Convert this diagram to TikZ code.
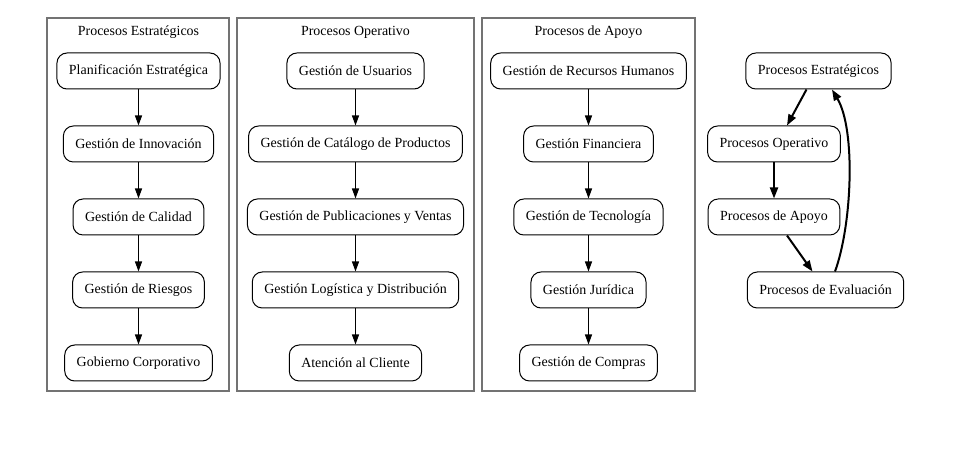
\documentclass[tikz,border=0pt]{standalone}
\usepackage{fontspec}
\setmainfont{Liberation Serif}
\usetikzlibrary{arrows.meta}
\begin{document}
\begin{tikzpicture}[x=1bp,y=-1bp,
  proc/.style={draw, line width=1bp, rounded corners=10bp, minimum height=36bp, inner xsep=12bp, font=\fontsize{14}{16}\selectfont},
  clusterbox/.style={draw=black!55, line width=1.6bp},
  ctitle/.style={font=\fontsize{14}{16}\selectfont, inner sep=0pt},
  flow/.style={-{Triangle[length=10bp,width=7bp]}, line width=1.1bp},
  thick flow/.style={-{Triangle[length=11bp,width=8bp]}, line width=2bp}]
\useasboundingbox (0,0) rectangle (962,475);
\fill[white] (0,0) rectangle (962,475);
% clusters
\draw[clusterbox] (47,18) rectangle (229,391);
\draw[clusterbox] (237,18) rectangle (474,391);
\draw[clusterbox] (482,18) rectangle (695,391);
\node[ctitle] (t1) at (138.5,32) {Procesos Estratégicos};
\node[ctitle] (t2) at (355.5,32) {Procesos Operativo};
\node[ctitle] (t3) at (588.5,32) {Procesos de Apoyo};
% cluster 1
\node[proc] (a1) at (138.5,71) {Planificación Estratégica};
\node[proc] (a2) at (138.5,144) {Gestión de Innovación};
\node[proc] (a3) at (138.5,217) {Gestión de Calidad};
\node[proc] (a4) at (138.5,290) {Gestión de Riesgos};
\node[proc] (a5) at (138.5,363) {Gobierno Corporativo};
% cluster 2
\node[proc] (b1) at (355.5,71) {Gestión de Usuarios};
\node[proc] (b2) at (355.5,144) {Gestión de Catálogo de Productos};
\node[proc] (b3) at (355.5,217) {Gestión de Publicaciones y Ventas};
\node[proc] (b4) at (355.5,290) {Gestión Logística y Distribución};
\node[proc] (b5) at (355.5,363) {Atención al Cliente};
% cluster 3
\node[proc] (c1) at (588.5,71) {Gestión de Recursos Humanos};
\node[proc] (c2) at (588.5,144) {Gestión Financiera};
\node[proc] (c3) at (588.5,217) {Gestión de Tecnología};
\node[proc] (c4) at (588.5,290) {Gestión Jurídica};
\node[proc] (c5) at (588.5,363) {Gestión de Compras};
\foreach \p in {a,b,c}{
  \draw[flow] (\p1) -- (\p2);
  \draw[flow] (\p2) -- (\p3);
  \draw[flow] (\p3) -- (\p4);
  \draw[flow] (\p4) -- (\p5);
}
% right graph
\node[proc] (est) at (818.5,71) {Procesos Estratégicos};
\node[proc] (ope) at (774,144) {Procesos Operativo};
\node[proc] (apo) at (774,217) {Procesos de Apoyo};
\node[proc] (eva) at (825.5,290) {Procesos de Evaluación};
\draw[thick flow] ([xshift=-12bp]est.south) -- ([xshift=13bp]ope.north);
\draw[thick flow] (ope) -- (apo);
\draw[thick flow] ([xshift=13bp]apo.south) -- ([xshift=-13bp]eva.north);
\draw[thick flow] ([xshift=9.5bp]eva.north) .. controls (852,225) and (856,130) .. ([xshift=13.5bp]est.south);
\end{tikzpicture}
\end{document}
